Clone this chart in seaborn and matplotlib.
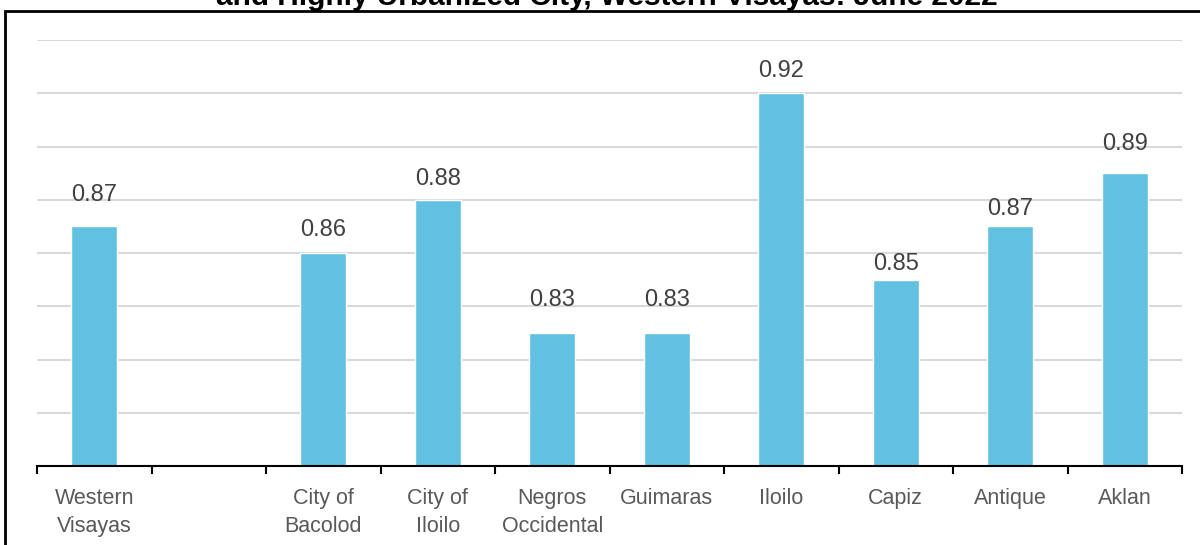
import matplotlib
matplotlib.use("Agg")
import matplotlib.pyplot as plt
import seaborn as sns
import numpy as np
import pandas as pd
from matplotlib.patches import Rectangle

# data
categories = ["Western\nVisayas", " ", "City of\nBacolod", "City of\nIloilo", "Negros\nOccidental",
              "Guimaras", "Iloilo", "Capiz", "Antique", "Aklan"]
values = [0.87, np.nan, 0.86, 0.88, 0.83, 0.83, 0.92, 0.85, 0.87, 0.89]
title = "and Highly Urbanized City, Western Visayas: June 2022"

# label offsets above each bar (points), as placed in the original
label_pad = [14.5, 8.7, 7.3, 15.9, 15.9, 8.0, 3.0, 4.4, 13.0]

df = pd.DataFrame({"area": categories, "value": values}).dropna()

sns.set_theme(style="white")
plt.rcParams["font.family"] = ["Liberation Sans", "DejaVu Sans"]

fig = plt.figure(figsize=(12, 5.45), dpi=100)
ax = fig.add_axes([37 / 1200, 1 - 466 / 545, (1182 - 37) / 1200, (466 - 40) / 545])

sns.barplot(data=df, x="area", y="value", order=categories, color="#62C1E0",
            width=0.4, saturation=1, ax=ax)

ax.set_ylim(0.78, 0.94)
ax.set_xlim(-0.5, len(categories) - 0.5)
ax.set_yticks(np.arange(0.78, 0.9401, 0.02))
ax.yaxis.grid(True, color="#D9D9D9", linewidth=1.5)
ax.set_axisbelow(True)
ax.tick_params(axis="y", left=False, labelleft=False)

# category labels centred, tick marks at the boundaries
ax.set_xticks(range(len(categories)))
ax.set_xticklabels(categories, fontsize=15.5, color="#595959", linespacing=1.4)
ax.set_xticks(np.arange(-0.5, len(categories), 1), minor=True)
ax.tick_params(axis="x", which="major", length=0, pad=16)
ax.tick_params(axis="x", which="minor", bottom=True, length=6, width=1.5,
               color="black", direction="out")

for s in ["top", "right", "left"]:
    ax.spines[s].set_visible(False)
ax.spines["bottom"].set_color("black")
ax.spines["bottom"].set_linewidth(1.5)

ax.set_xlabel("")
ax.set_ylabel("")

# value labels
bars = sorted(ax.patches, key=lambda p: p.get_x())
for p, pad in zip(bars, label_pad):
    h = p.get_height()
    ax.annotate(f"{h:.2f}", xy=(p.get_x() + p.get_width() / 2, h),
                xytext=(0, pad), textcoords="offset points",
                ha="center", va="bottom", fontsize=17, color="#404040")

# border and cropped title
fig.add_artist(Rectangle((5 / 1200, -0.2), 1.2, 1.2 - 11 / 545, transform=fig.transFigure,
                         fill=False, edgecolor="black", linewidth=2))
fig.text(607 / 1200, 1 - 5 / 545, title, ha="center", va="baseline",
         fontsize=21.4, fontweight="bold", color="black")

fig.savefig("out.png", dpi=100)
